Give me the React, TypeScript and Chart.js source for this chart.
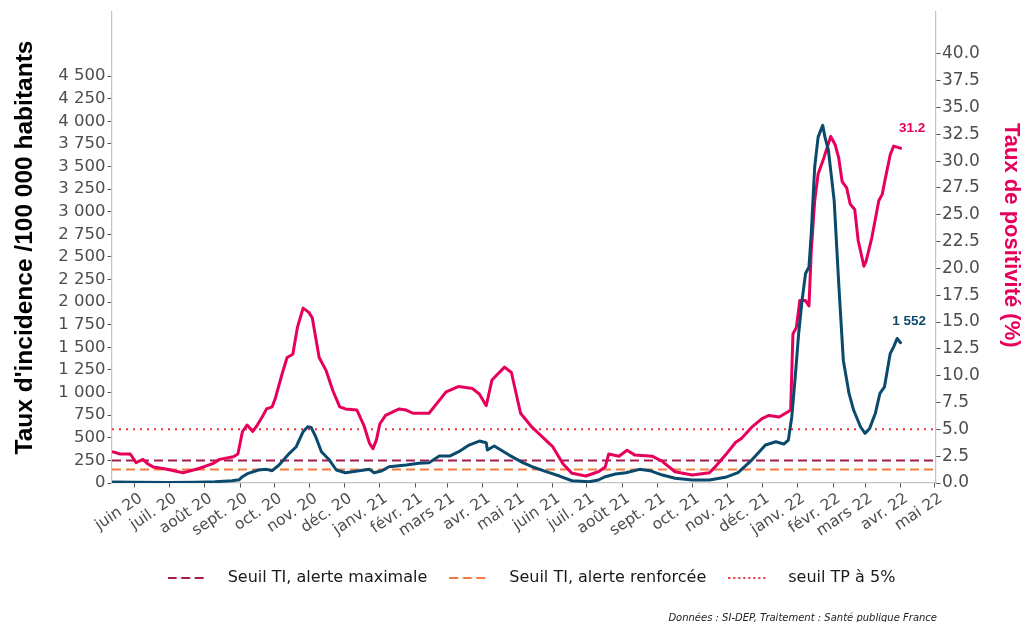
import React, { useEffect, useRef } from "react";
import { Chart, registerables } from "chart.js";

Chart.register(...registerables);

// ---- Data ----
const tiDates = [
  "2020-05-13", "2020-06-01", "2020-07-01", "2020-07-25", "2020-08-10", "2020-08-25", "2020-08-31",
  "2020-09-03", "2020-09-08", "2020-09-17", "2020-09-24", "2020-09-29", "2020-10-05", "2020-10-14",
  "2020-10-20", "2020-10-26", "2020-10-30", "2020-11-02", "2020-11-06", "2020-11-11", "2020-11-18",
  "2020-11-24", "2020-12-02", "2020-12-14", "2020-12-23", "2020-12-27", "2021-01-03", "2021-01-09",
  "2021-01-24", "2021-02-04", "2021-02-13", "2021-02-22", "2021-03-03", "2021-03-11", "2021-03-20",
  "2021-03-29", "2021-04-04", "2021-04-05", "2021-04-11", "2021-04-24", "2021-05-06", "2021-05-14",
  "2021-05-29", "2021-06-07", "2021-06-18", "2021-07-03", "2021-07-11", "2021-07-17", "2021-07-26",
  "2021-08-04", "2021-08-16", "2021-08-25", "2021-09-05", "2021-09-16", "2021-10-01", "2021-10-16",
  "2021-10-30", "2021-11-10", "2021-11-22", "2021-12-04", "2021-12-13", "2021-12-20", "2021-12-24",
  "2021-12-27", "2021-12-30", "2022-01-02", "2022-01-05", "2022-01-08", "2022-01-11", "2022-01-13",
  "2022-01-16", "2022-01-19", "2022-01-23", "2022-01-25", "2022-01-28", "2022-02-02", "2022-02-06",
  "2022-02-10", "2022-02-15", "2022-02-19", "2022-02-25", "2022-03-01", "2022-03-05", "2022-03-10",
  "2022-03-14", "2022-03-18", "2022-03-23", "2022-03-26", "2022-03-29", "2022-04-01",
];
const tiValues = [
  12, 8, 5, 8, 14, 25, 35,
  70, 107, 144, 151, 136, 199, 328,
  401, 567, 622, 615, 512, 346, 254,
  144, 114, 136, 151, 114, 136, 180,
  199, 218, 225, 298, 298, 346, 420,
  464, 445, 365, 409, 309, 225, 180,
  114, 77, 25, 14, 33, 70, 99,
  114, 151, 136, 88, 52, 33, 33,
  63, 114, 254, 420, 456, 431, 475,
  733, 1175, 1654, 2022, 2317, 2390, 2759,
  3495, 3826, 3956, 3826, 3680, 3127, 2207,
  1359, 991, 807, 622, 549, 604, 770,
  991, 1064, 1433, 1506, 1599, 1552,
];

const tpDates = [
  "2020-05-13", "2020-05-19", "2020-05-28", "2020-06-02", "2020-06-08", "2020-06-12", "2020-06-17",
  "2020-06-28", "2020-07-13", "2020-07-27", "2020-08-08", "2020-08-14", "2020-08-26", "2020-08-30",
  "2020-09-03", "2020-09-07", "2020-09-12", "2020-09-16", "2020-09-21", "2020-09-24", "2020-09-29",
  "2020-10-02", "2020-10-08", "2020-10-12", "2020-10-17", "2020-10-21", "2020-10-26", "2020-10-31",
  "2020-11-03", "2020-11-09", "2020-11-15", "2020-11-21", "2020-11-27", "2020-12-02", "2020-12-12",
  "2020-12-18", "2020-12-23", "2020-12-26", "2020-12-29", "2021-01-01", "2021-01-06", "2021-01-18",
  "2021-01-24", "2021-01-30", "2021-02-13", "2021-02-22", "2021-02-28", "2021-03-11", "2021-03-23",
  "2021-03-29", "2021-04-04", "2021-04-09", "2021-04-20", "2021-04-26", "2021-05-04", "2021-05-14",
  "2021-05-20", "2021-05-29", "2021-06-01", "2021-06-10", "2021-06-18", "2021-06-30", "2021-07-11",
  "2021-07-17", "2021-07-20", "2021-07-29", "2021-08-05", "2021-08-12", "2021-08-27", "2021-09-05",
  "2021-09-16", "2021-10-01", "2021-10-16", "2021-10-21", "2021-10-30", "2021-11-08", "2021-11-13",
  "2021-11-22", "2021-12-01", "2021-12-07", "2021-12-16", "2021-12-23", "2021-12-26", "2021-12-28",
  "2021-12-31", "2022-01-03", "2022-01-08", "2022-01-11", "2022-01-13", "2022-01-16", "2022-01-19",
  "2022-01-24", "2022-01-30", "2022-02-03", "2022-02-06", "2022-02-09", "2022-02-13", "2022-02-16",
  "2022-02-20", "2022-02-23", "2022-02-28", "2022-03-02", "2022-03-07", "2022-03-13", "2022-03-16",
  "2022-03-18", "2022-03-23", "2022-03-26", "2022-03-29", "2022-04-01",
];
const tpValues = [
  2.9, 2.7, 2.7, 1.9, 2.2, 1.8, 1.5,
  1.3, 0.95, 1.35, 1.8, 2.2, 2.45, 2.7,
  4.8, 5.4, 4.8, 5.4, 6.3, 6.9, 7.1,
  8.0, 10.3, 11.7, 12.0, 14.5, 16.3, 15.9,
  15.4, 11.7, 10.5, 8.6, 7.1, 6.9, 6.8,
  5.4, 3.7, 3.2, 4.0, 5.5, 6.3, 6.9,
  6.8, 6.5, 6.5, 7.7, 8.5, 9.0, 8.8,
  8.3, 7.2, 9.6, 10.8, 10.3, 6.5, 5.2,
  4.6, 3.7, 3.4, 1.8, 0.9, 0.65, 1.05,
  1.5, 2.7, 2.5, 3.05, 2.6, 2.5, 2.0,
  1.05, 0.75, 0.95, 1.5, 2.6, 3.8, 4.15,
  5.2, 6.0, 6.3, 6.15, 6.6, 6.8, 13.9,
  14.5, 17.0, 17.0, 16.5, 21.6, 26.3, 28.8,
  30.3, 32.3, 31.5, 30.3, 28.1, 27.5, 26.0,
  25.5, 22.6, 20.2, 20.7, 22.9, 26.3, 26.9,
  28.0, 30.6, 31.4, 31.3, 31.2,
];

const monthTickDates = [
  "2020-06-01", "2020-07-01", "2020-08-01", "2020-09-01", "2020-10-01", "2020-11-01", "2020-12-01",
  "2021-01-01", "2021-02-01", "2021-03-01", "2021-04-01", "2021-05-01", "2021-06-01", "2021-07-01",
  "2021-08-01", "2021-09-01", "2021-10-01", "2021-11-01", "2021-12-01", "2022-01-01", "2022-02-01",
  "2022-03-01", "2022-04-01", "2022-05-01",
];
const monthTickLabels = [
  "juin 20", "juil. 20", "août 20", "sept. 20", "oct. 20", "nov. 20", "déc. 20",
  "janv. 21", "févr. 21", "mars 21", "avr. 21", "mai 21", "juin 21", "juil. 21",
  "août 21", "sept. 21", "oct. 21", "nov. 21", "déc. 21", "janv. 22", "févr. 22",
  "mars 22", "avr. 22", "mai 22",
];
const leftTicks = [0, 250, 500, 750, 1000, 1250, 1500, 1750, 2000, 2250, 2500, 2750, 3000, 3250, 3500, 3750, 4000, 4250, 4500];
const rightTicks = [0, 2.5, 5, 7.5, 10, 12.5, 15, 17.5, 20, 22.5, 25, 27.5, 30, 32.5, 35, 37.5, 40];

const seuilMaxTI = 250;
const seuilRenfTI = 150;
const seuilTP = 5;

const xStart = "2020-05-12";
const xEnd = "2022-05-02";
const leftMax = 5210;
const rightMax = 43.9;

const legendLabels = ["Seuil TI, alerte maximale", "Seuil TI, alerte renforcée", "seuil TP à 5%"];
const leftTitle = "Taux d'incidence /100 000 habitants";
const rightTitle = "Taux de positivité (%)";
const footerText = "Données : SI-DEP, Traitement : Santé publique France";

// ---- Styles ----
const PINK = "#e6005c";
const BLUE = "#0b4a6c";
const MAROON = "#a31a4f";
const ORANGE = "#f47b3f";
const RED = "#f1333c";
const TICK_COLOR = "#4d4d4d";
const FONT = "'DejaVu Sans', sans-serif";
const BOLD_FONT = "'Liberation Sans', Arial, sans-serif";

const ORIGIN = Date.UTC(2020, 5, 1);
const dayOf = (s: string) => {
  const [y, m, d] = s.split("-").map(Number);
  return (Date.UTC(y, m - 1, d) - ORIGIN) / 86400000;
};
const fmtTI = (v: number) =>
  v >= 1000 ? `${Math.floor(v / 1000)} ${String(Math.round(v % 1000)).padStart(3, "0")}` : String(v);

function swatch(color: string, dash: number[], width: number) {
  const c = document.createElement("canvas");
  c.width = 52;
  c.height = 6;
  const g = c.getContext("2d")!;
  g.strokeStyle = color;
  g.lineWidth = width;
  g.setLineDash(dash);
  g.beginPath();
  g.moveTo(0, 3);
  g.lineTo(38, 3);
  g.stroke();
  return c;
}

export default function App() {
  const ref = useRef<HTMLCanvasElement | null>(null);

  useEffect(() => {
    if (!ref.current) return;
    const xMin = dayOf(xStart);
    const xMax = dayOf(xEnd);

    const swatches = [swatch(MAROON, [9, 4.5], 2.2), swatch(ORANGE, [9, 4.5], 2.2), swatch(RED, [2, 3], 2)];
    const swatchColors = [MAROON, ORANGE, RED];

    const endLabels = {
      id: "endLabels",
      afterDatasetsDraw(chart: any) {
        const { ctx, scales } = chart;
        ctx.save();
        ctx.font = `bold 13.5px ${BOLD_FONT}`;
        ctx.textAlign = "center";
        ctx.textBaseline = "middle";
        const lp = tpValues.length - 1;
        ctx.fillStyle = PINK;
        ctx.fillText(
          tpValues[lp].toFixed(1),
          scales.x.getPixelForValue(dayOf(tpDates[lp])) + 11.5,
          scales.yR.getPixelForValue(tpValues[lp]) - 20
        );
        const lb = tiValues.length - 1;
        ctx.fillStyle = BLUE;
        ctx.fillText(
          fmtTI(tiValues[lb]),
          scales.x.getPixelForValue(dayOf(tiDates[lb])) + 8.5,
          scales.yL.getPixelForValue(tiValues[lb]) - 21
        );
        ctx.restore();
      },
      afterDraw(chart: any) {
        const { ctx } = chart;
        ctx.save();
        ctx.font = `italic 10px ${FONT}`;
        ctx.fillStyle = "#222222";
        ctx.textAlign = "right";
        ctx.textBaseline = "alphabetic";
        ctx.fillText(footerText, 937, 621);
        ctx.restore();
      },
    };

    const chart = new Chart(ref.current, {
      type: "line",
      data: {
        datasets: [
          {
            label: "Taux d'incidence",
            data: tiDates.map((d, i) => ({ x: dayOf(d), y: tiValues[i] })),
            borderColor: BLUE,
            borderWidth: 3,
            pointRadius: 0,
            tension: 0,
            yAxisID: "yL",
            borderJoinStyle: "round",
            borderCapStyle: "round",
          },
          {
            label: "Taux de positivité",
            data: tpDates.map((d, i) => ({ x: dayOf(d), y: tpValues[i] })),
            borderColor: PINK,
            borderWidth: 3,
            pointRadius: 0,
            tension: 0,
            yAxisID: "yR",
            borderJoinStyle: "round",
            borderCapStyle: "round",
          },
          {
            label: legendLabels[0],
            data: [{ x: xMin, y: seuilMaxTI }, { x: xMax, y: seuilMaxTI }],
            borderColor: MAROON,
            borderWidth: 2,
            borderDash: [9, 5],
            pointRadius: 0,
            yAxisID: "yL",
          },
          {
            label: legendLabels[1],
            data: [{ x: xMin, y: seuilRenfTI }, { x: xMax, y: seuilRenfTI }],
            borderColor: ORANGE,
            borderWidth: 2,
            borderDash: [9, 5],
            pointRadius: 0,
            yAxisID: "yL",
          },
          {
            label: legendLabels[2],
            data: [{ x: xMin, y: seuilTP }, { x: xMax, y: seuilTP }],
            borderColor: RED,
            borderWidth: 2,
            borderDash: [2, 5],
            pointRadius: 0,
            yAxisID: "yR",
          },
        ],
      },
      options: {
        responsive: false,
        animation: false,
        devicePixelRatio: 1,
        layout: { padding: { left: 40, right: 0, top: 12, bottom: 26 } },
        plugins: {
          tooltip: { enabled: false },
          legend: {
            position: "bottom",
            labels: {
              usePointStyle: true,
              pointStyleWidth: 52,
              padding: 22,
              color: "#1a1a1a",
              font: { family: FONT, size: 16 },
              generateLabels: () =>
                legendLabels.map((t, i) => ({
                  text: t,
                  pointStyle: swatches[i] as any,
                  fillStyle: swatchColors[i],
                  strokeStyle: swatchColors[i],
                  lineWidth: 0,
                  hidden: false,
                  datasetIndex: i + 2,
                  fontColor: "#1a1a1a",
                })),
            },
          },
        },
        scales: {
          x: {
            type: "linear",
            min: xMin,
            max: xMax,
            afterBuildTicks: (s: any) => {
              s.ticks = monthTickDates.map((d) => ({ value: dayOf(d) }));
            },
            afterFit: (s: any) => {
              s.height = 65;
            },
            ticks: {
              autoSkip: false,
              minRotation: 34,
              maxRotation: 34,
              labelOffset: 6,
              color: TICK_COLOR,
              padding: 2,
              font: { family: FONT, size: 15.5 },
              callback: (_v: any, i: number) => monthTickLabels[i],
            },
            grid: { drawOnChartArea: false, drawTicks: true, tickLength: 4.5, color: "#555555" },
            border: { display: true, color: "#c4c4c4", width: 1.2 },
          },
          yL: {
            type: "linear",
            position: "left",
            min: 0,
            max: leftMax,
            afterBuildTicks: (s: any) => {
              s.ticks = leftTicks.map((v) => ({ value: v }));
            },
            afterFit: (s: any) => {
              s.width = 72;
            },
            ticks: {
              autoSkip: false,
              color: TICK_COLOR,
              padding: 2,
              font: { family: FONT, size: 16.5 },
              callback: (v: any) => fmtTI(Number(v)),
            },
            grid: { drawOnChartArea: false, drawTicks: true, tickLength: 4.5, color: "#555555" },
            border: { display: true, color: "#c4c4c4", width: 1.2 },
            title: {
              display: true,
              text: leftTitle,
              color: "#000000",
              font: { family: BOLD_FONT, size: 24.5, weight: "bold", lineHeight: 1.2 },
              padding: { top: -29.7, bottom: 0 },
            },
          },
          yR: {
            type: "linear",
            position: "right",
            min: 0,
            max: rightMax,
            afterBuildTicks: (s: any) => {
              s.ticks = rightTicks.map((v) => ({ value: v }));
            },
            afterFit: (s: any) => {
              s.width = 87;
            },
            ticks: {
              autoSkip: false,
              color: TICK_COLOR,
              padding: 1.5,
              font: { family: FONT, size: 17 },
              callback: (v: any) => Number(v).toFixed(1),
            },
            grid: { drawOnChartArea: false, drawTicks: true, tickLength: 4.5, color: "#555555" },
            border: { display: true, color: "#c4c4c4", width: 1.2 },
            title: {
              display: true,
              text: rightTitle + "    ",
              color: PINK,
              font: { family: BOLD_FONT, size: 22, weight: "bold", lineHeight: 1.2 },
              padding: { top: -1.2, bottom: 0 },
            },
          },
        },
      },
      plugins: [endLabels],
    } as any);

    return () => chart.destroy();
  }, []);

  return (
    <div style={{ position: "fixed", left: 0, top: 0, width: 1023, height: 622, background: "#ffffff" }}>
      <canvas ref={ref} width={1023} height={622} style={{ width: 1023, height: 622, display: "block" }} />
    </div>
  );
}
